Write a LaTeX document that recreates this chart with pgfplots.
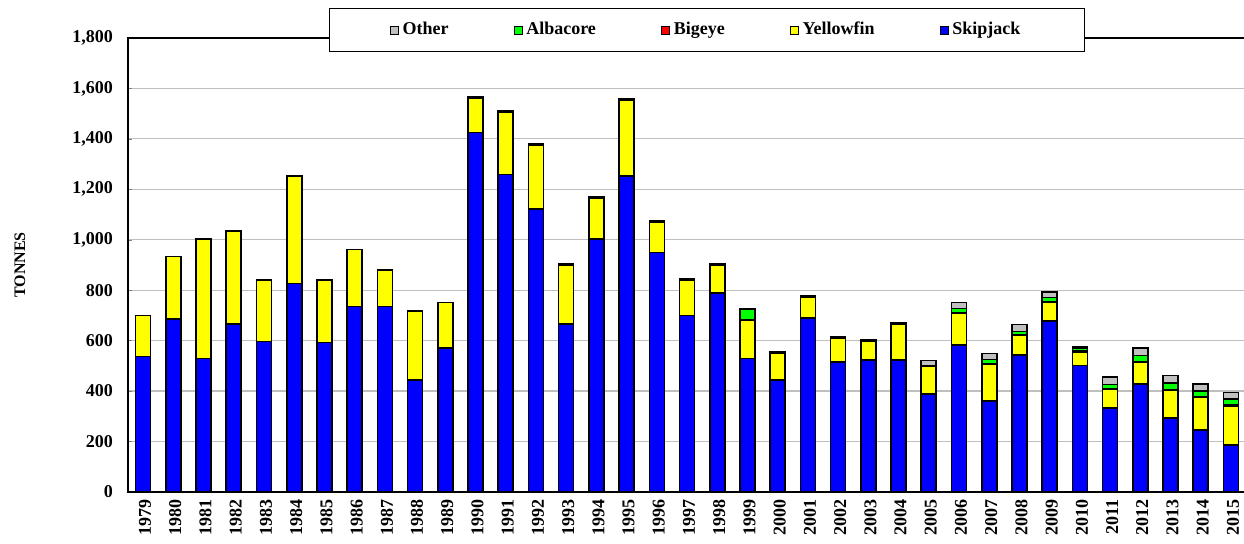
\documentclass[border=0pt]{standalone}
\usepackage{pgfplots}
\pgfplotsset{compat=1.18}
\usepackage{pgfplotstable}
\usepackage{fontspec}
\setmainfont{Liberation Serif}

\definecolor{skj}{RGB}{0,0,255}
\definecolor{yft}{RGB}{255,255,0}
\definecolor{bet}{RGB}{255,0,0}
\definecolor{alb}{RGB}{0,255,0}
\definecolor{oth}{RGB}{192,192,192}

% idx year skipjack yellowfin bigeye albacore other
\pgfplotstableread{
idx year sk yf be al ot
0 1979 537 162 0 0 0
1 1980 686 248 0 0 0
2 1981 530 472 0 0 0
3 1982 666 369 0 0 0
4 1983 597 243 0 0 0
5 1984 827 425 0 0 0
6 1985 592 248 0 0 0
7 1986 735 226 0 0 0
8 1987 735 146 0 0 0
9 1988 444 274 0 0 0
10 1989 571 181 0 0 0
11 1990 1426 136 6 0 0
12 1991 1258 248 6 0 0
13 1992 1123 251 5 0 0
14 1993 666 235 5 0 0
15 1994 1002 162 5 0 0
16 1995 1253 302 5 0 0
17 1996 949 121 5 0 0
18 1997 699 141 5 0 0
19 1998 788 113 5 0 0
20 1999 530 153 0 42 0
21 2000 443 108 5 0 0
22 2001 691 81 5 0 0
23 2002 515 96 5 0 0
24 2003 523 75 5 0 0
25 2004 523 141 5 0 0
26 2005 389 108 4 0 20
27 2006 583 125 3 16 24
28 2007 361 146 3 16 23
29 2008 543 79 3 12 27
30 2009 678 73 3 17 21
31 2010 502 52 5 10 6
32 2011 333 75 3 15 29
33 2012 428 87 3 23 29
34 2013 293 109 3 27 30
35 2014 246 128 3 24 27
36 2015 186 155 3 24 26
}\catch

\begin{document}
\begin{tikzpicture}
\begin{axis}[
  scale only axis,
  width=566.6pt, height=227pt,
  ybar stacked, bar width=7.5pt,
  xmin=-0.5, xmax=37,
  ymin=0, ymax=1800,
  ytick={0,200,...,1800},
  xtick={0,...,36},
  xticklabels={1979,1980,1981,1982,1983,1984,1985,1986,1987,1988,1989,1990,1991,1992,1993,1994,1995,1996,1997,1998,1999,2000,2001,2002,2003,2004,2005,2006,2007,2008,2009,2010,2011,2012,2013,2014,2015},
  xtick style={draw=none},
  ytick pos=left,
  major tick length=2pt,
  ymajorgrids,
  grid style={line width=0.6pt, color=black!25},
  axis line style={line width=0.8pt},
  font=\bfseries\fontsize{9}{10}\selectfont,
  tick label style={font=\bfseries\fontsize{9}{10}\selectfont},
  /pgf/number format/assume math mode=true,
  /pgf/number format/1000 sep={,},
  yticklabel style={xshift=-4pt},
  xticklabel style={rotate=90, anchor=east, xshift=0pt, yshift=-1pt},
  ylabel={TONNES},
  every axis y label/.style={at={(axis description cs:0,0.5)}, xshift=-54pt, rotate=90, anchor=center, font=\bfseries\fontsize{8}{10}\selectfont},
  reverse legend,
  legend columns=5,
  legend style={at={(axis description cs:0.511,1.0176)}, anchor=center,
    draw=black, line width=0.6pt, fill=white, inner xsep=30pt, inner ysep=5pt,
    font=\bfseries\fontsize{9}{10}\selectfont,
    /tikz/every even column/.append style={column sep=30.5pt}},
  legend image code/.code={\draw[#1, line width=0.4pt] (0pt,-2pt) rectangle (4pt,2pt);},
  every axis plot/.append style={draw=black, line width=0.8pt},
]
\addplot[fill=skj] table[x=idx, y=sk] {\catch};
\addplot[fill=yft] table[x=idx, y=yf] {\catch};
\addplot[fill=bet] table[x=idx, y=be] {\catch};
\addplot[fill=alb] table[x=idx, y=al] {\catch};
\addplot[fill=oth] table[x=idx, y=ot] {\catch};
\legend{Skipjack,Yellowfin,Bigeye,Albacore,Other}
\coordinate (A) at (rel axis cs:0,0);
\end{axis}
\pgfresetboundingbox
\path[use as bounding box] ([xshift=-64pt,yshift=-26pt]A) rectangle ([xshift=558pt,yshift=246pt]A);
\end{tikzpicture}
\end{document}
